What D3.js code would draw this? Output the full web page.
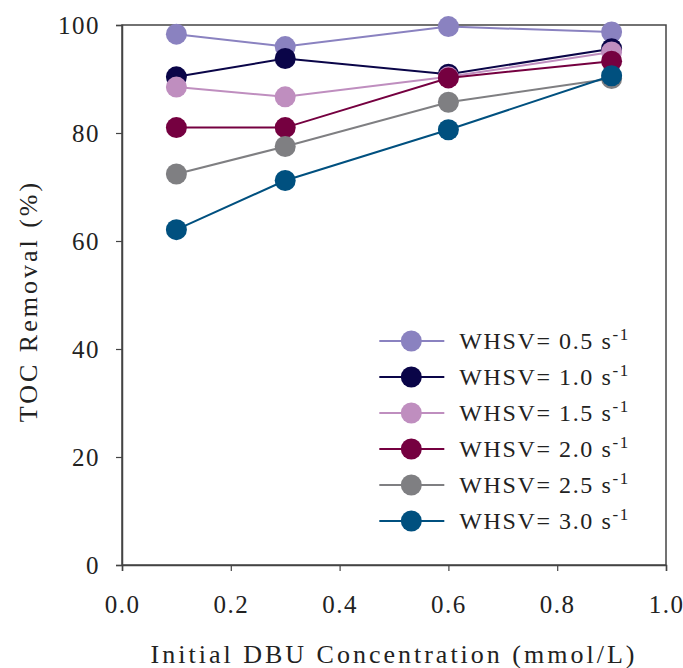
<!DOCTYPE html>
<html>
<head>
<meta charset="utf-8">
<script src="https://cdn.jsdelivr.net/npm/d3@7"></script>
<style>
  body { margin: 0; background: #fff; }
  text { font-family: "Liberation Serif", "Times New Roman", serif; fill: #222; }
</style>
</head>
<body>
<svg width="683" height="668"></svg>
<script>
var concentrations = [0.1, 0.3, 0.6, 0.9];
var seriesNames = ["0.5", "1.0", "1.5", "2.0", "2.5", "3.0"];
var seriesColors = ["#8a82c0", "#0a0548", "#bf8ebf", "#750040", "#7f7f82", "#00507f"];
var whsv05 = [98.3, 96.0, 99.7, 98.7];
var whsv10 = [90.4, 93.8, 90.9, 95.6];
var whsv15 = [88.5, 86.7, 90.4, 95.0];
var whsv20 = [81.0, 81.0, 90.2, 93.3];
var whsv25 = [72.4, 77.5, 85.7, 90.1];
var whsv30 = [62.1, 71.2, 80.6, 90.6];
var xTicks = [0, 0.2, 0.4, 0.6, 0.8, 1.0];
var yTicks = [0, 20, 40, 60, 80, 100];

var allSeries = [whsv05, whsv10, whsv15, whsv20, whsv25, whsv30];

var svg = d3.select("svg"),
    margin = {top: 25, right: 17, bottom: 103, left: 122},
    width = +svg.attr("width") - margin.left - margin.right,
    height = +svg.attr("height") - margin.top - margin.bottom,
    g = svg.append("g").attr("transform", "translate(" + margin.left + "," + margin.top + ")");

var x = d3.scaleLinear().domain([0, 1]).range([0, width]);
var y = d3.scaleLinear().domain([0, 100]).range([height, 0]);

// frame
g.append("rect")
  .attr("width", width)
  .attr("height", height)
  .attr("fill", "none")
  .attr("stroke", "#444")
  .attr("stroke-width", 1.5);

var xAxis = g.append("g")
  .attr("transform", "translate(0," + height + ")")
  .call(d3.axisBottom(x).tickValues(xTicks).tickFormat(d3.format(".1f")).tickSize(6).tickPadding(24));
var yAxis = g.append("g")
  .call(d3.axisLeft(y).tickValues(yTicks).tickSize(6).tickPadding(16));

[xAxis, yAxis].forEach(function(a) {
  a.select(".domain").attr("stroke", "#444").attr("stroke-width", 1.5);
  a.selectAll(".tick line").attr("stroke", "#444").attr("stroke-width", 1.2);
  a.selectAll("text")
    .attr("font-size", 25)
    .attr("letter-spacing", 1.5)
    .attr("font-family", "Liberation Serif, serif")
    .attr("fill", "#222");
});

var line = d3.line()
  .x(function(d, i) { return x(concentrations[i]); })
  .y(function(d) { return y(d); });

allSeries.forEach(function(vals, si) {
  var s = g.append("g");
  s.append("path")
    .attr("d", line(vals))
    .attr("fill", "none")
    .attr("stroke", seriesColors[si])
    .attr("stroke-width", 2);
  s.selectAll("circle")
    .data(vals)
    .enter().append("circle")
    .attr("cx", function(d, i) { return x(concentrations[i]); })
    .attr("cy", function(d) { return y(d); })
    .attr("r", 10.5)
    .attr("fill", seriesColors[si]);
});

// legend
var legend = g.append("g")
  .selectAll("g")
  .data(seriesNames)
  .enter().append("g")
  .attr("transform", function(d, i) {
    return "translate(" + (x(0.473)) + "," + (316 + i * 36) + ")";
  });

legend.append("line")
  .attr("x1", 0).attr("x2", 65)
  .attr("stroke", function(d, i) { return seriesColors[i]; })
  .attr("stroke-width", 2);
legend.append("circle")
  .attr("cx", 32)
  .attr("r", 10.5)
  .attr("fill", function(d, i) { return seriesColors[i]; });
var lt = legend.append("text")
  .attr("x", 80)
  .attr("dy", "0.35em")
  .attr("font-size", 24)
  .attr("letter-spacing", 1.6);
lt.append("tspan").text(function(d) { return "WHSV= " + d + " s"; });
lt.append("tspan")
  .attr("dy", "-0.55em")
  .attr("font-size", 17)
  .text("-1");

svg.append("text")
  .attr("x", margin.left + width / 2)
  .attr("y", 663)
  .attr("text-anchor", "middle")
  .attr("font-size", 26)
  .attr("letter-spacing", 3)
  .text("Initial DBU Concentration (mmol/L)");

svg.append("text")
  .attr("transform", "translate(37,301) rotate(-90)")
  .attr("text-anchor", "middle")
  .attr("font-size", 26)
  .attr("letter-spacing", 3)
  .text("TOC Removal (%)");
</script>
</body>
</html>
